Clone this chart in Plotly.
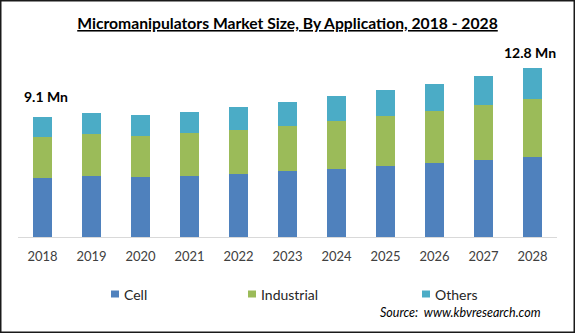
import plotly.graph_objects as go

# Micromanipulators market size by application (USD Mn)
years = ["2018", "2019", "2020", "2021", "2022", "2023", "2024", "2025", "2026", "2027", "2028"]
cell = [4.47, 4.62, 4.54, 4.62, 4.77, 5.00, 5.15, 5.37, 5.60, 5.83, 6.06]
industrial = [3.10, 3.18, 3.10, 3.26, 3.33, 3.41, 3.61, 3.79, 3.94, 4.16, 4.39]
others = [1.54, 1.59, 1.59, 1.59, 1.76, 1.82, 1.92, 1.97, 2.04, 2.20, 2.35]

segment_names = ["Cell", "Industrial", "Others"]
segment_colors = ["#4F81BD", "#9BBB59", "#4BACC6"]
segment_values = [cell, industrial, others]

FONT = "Lato"
W, H = 575, 333
ML, MR, MT, MB = 18, 18, 52, 96
PW, PH = W - ML - MR, H - MT - MB


def px_x(px):
    """Pixel column -> paper x."""
    return (px - ML) / PW


def px_y(py):
    """Pixel row -> paper y."""
    return (MT + PH - py) / PH


fig = go.Figure()
for name, vals, color in zip(segment_names, segment_values, segment_colors):
    fig.add_trace(go.Bar(
        x=years, y=vals, name=name, marker=dict(color=color, line=dict(width=0)),
        hoverinfo="skip", showlegend=False,
    ))

totals = [round(c + i + o, 1) for c, i, o in zip(cell, industrial, others)]

annotations = [
    dict(x=0, y=totals[0], text=f"<b>{totals[0]} Mn</b>", showarrow=False,
         xref="x", yref="y", xanchor="center", yanchor="middle", yshift=20, xshift=3,
         font=dict(family=FONT, size=14, color="#000000")),
    dict(x=len(years) - 1, y=totals[-1], text=f"<b>{totals[-1]} Mn</b>", showarrow=False,
         xref="x", yref="y", xanchor="center", yanchor="middle", yshift=15, xshift=-3,
         font=dict(family=FONT, size=14, color="#000000")),
    dict(x=px_x(460), y=px_y(312), xref="paper", yref="paper", showarrow=False,
         text="<i>Source:  www.kbvresearch.com</i>", xanchor="center", yanchor="middle",
         font=dict(family=FONT, size=12.5, color="#000000")),
]

shapes = [
    dict(type="rect", xref="paper", yref="paper",
         x0=px_x(0.75), x1=px_x(W - 0.75), y0=px_y(H - 0.75), y1=px_y(0.75),
         line=dict(color="#1a1a1a", width=1.5), fillcolor="rgba(0,0,0,0)"),
]

# Legend: small colour keys followed by the segment name
legend_x = [111, 248, 422]
legend_y = 294
for name, color, lx in zip(segment_names, segment_colors, legend_x):
    shapes.append(dict(type="rect", xref="paper", yref="paper",
                       x0=px_x(lx), x1=px_x(lx + 8),
                       y0=px_y(legend_y + 3.5), y1=px_y(legend_y - 3.5),
                       line=dict(width=0), fillcolor=color))
    annotations.append(dict(x=px_x(lx + 11), y=px_y(legend_y), xref="paper", yref="paper",
                            text=name, showarrow=False, xanchor="left", yanchor="middle",
                            font=dict(family=FONT, size=14, color="#262626")))

fig.update_layout(
    width=W, height=H,
    margin=dict(l=ML, r=MR, t=MT, b=MB),
    paper_bgcolor="white", plot_bgcolor="white",
    barmode="stack", bargap=0.61,
    showlegend=False,
    title=dict(
        text="<b><u>Micromanipulators Market Size, By Application, 2018 - 2028</u></b>",
        x=0.5, xanchor="center", y=1 - 23.5 / H, yanchor="middle",
        font=dict(family=FONT, size=15.7, color="#000000"),
    ),
    xaxis=dict(
        type="category", range=[-0.5, 10.5], showgrid=False, zeroline=False,
        showline=True, linecolor="#d9d9d9", linewidth=1, ticks="",
        ticklabelstandoff=7,
        tickfont=dict(family=FONT, size=13, color="#404040"), fixedrange=True,
    ),
    yaxis=dict(
        range=[0, 14], visible=False, showgrid=False, zeroline=False, fixedrange=True,
    ),
    annotations=annotations,
    shapes=shapes,
)

fig.write_html("out.html")
